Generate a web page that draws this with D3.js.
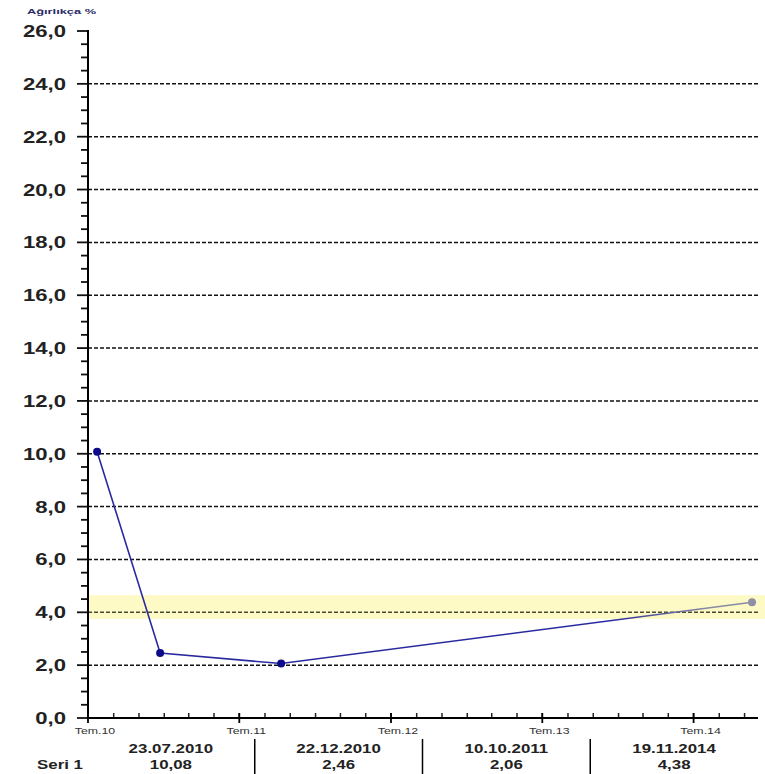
<!DOCTYPE html>
<html><head><meta charset="utf-8">
<script src="https://cdn.jsdelivr.net/npm/d3@7"></script>
<style>body{margin:0;background:#fff}svg{display:block}text{font-family:"Liberation Sans",Arial,sans-serif}</style>
</head><body>
<svg id="c" width="765" height="774"></svg>
<script>
const title = "Ağırlıkça %";
const seriesName = "Seri 1";
const dates = ["2010-07-23", "2010-12-22", "2011-10-10", "2014-11-19"];
const dateLabels = ["23.07.2010", "22.12.2010", "10.10.2011", "19.11.2014"];
const values = [10.08, 2.46, 2.06, 4.38];
const valueLabels = ["10,08", "2,46", "2,06", "4,38"];
const yTicks = [0, 2, 4, 6, 8, 10, 12, 14, 16, 18, 20, 22, 24, 26];
const xTickDates = ["2010-07-01", "2011-07-01", "2012-07-01", "2013-07-01", "2014-07-01"];
const xTickLabels = ["Tem.10", "Tem.11", "Tem.12", "Tem.13", "Tem.14"];
const bandRange = [3.75, 4.65];
const xDomain = ["2010-07-01", "2014-12-01"];

const parse = d3.utcParse("%Y-%m-%d");
const svg = d3.select("#c");
const S = 1.3;
function stretch(sel, f) {
  sel.each(function () {
    const w = this.getComputedTextLength();
    d3.select(this).attr("textLength", w * (f || S)).attr("lengthAdjust", "spacingAndGlyphs");
  });
}

const x = d3.scaleUtc().domain(xDomain.map(parse)).range([88, 757]);
const y = d3.scaleLinear().domain([0, 26]).range([718, 31]);
const x0 = 88, x1 = 758;

// band
svg.append("rect").attr("x", x0).attr("width", 765 - x0)
  .attr("y", y(bandRange[1])).attr("height", y(bandRange[0]) - y(bandRange[1]))
  .attr("fill", "#fdfac6");

// gridlines
svg.append("g").selectAll("line").data(yTicks.filter(v => v > 0 && v < 26)).join("line")
  .attr("x1", x0).attr("x2", x1).attr("y1", d => y(d)).attr("y2", d => y(d))
  .attr("stroke", d => d === 4 ? "#4a4a30" : "#111").attr("stroke-width", 1.5)
  .attr("stroke-dasharray", "4,2");

// y axis
const yMinor = d3.range(0, 26.01, 0.5);
svg.append("g").selectAll("line").data(yMinor).join("line")
  .attr("x1", d => d % 2 === 0 ? 77 : 81).attr("x2", x0)
  .attr("y1", d => y(d)).attr("y2", d => y(d))
  .attr("stroke", "#111").attr("stroke-width", 1.8);
svg.append("line").attr("x1", x0).attr("x2", x0).attr("y1", y(26) - 1).attr("y2", y(0) + 1)
  .attr("stroke", "#000").attr("stroke-width", 2);
const yl = svg.append("g").selectAll("text").data(yTicks).join("text")
  .attr("x", 66).attr("y", d => y(d) + 6).attr("text-anchor", "end")
  .attr("font-size", 17).attr("font-weight", "bold").attr("fill", "#222")
  .text(d => d3.format(".1f")(d).replace(".", ","));
stretch(yl);

// x axis
const xMinor = d3.utcMonth.every(2).range(parse("2010-07-01"), parse("2014-12-01"));
svg.append("g").selectAll("line").data(xMinor).join("line")
  .attr("x1", d => x(d)).attr("x2", d => x(d)).attr("y1", 713).attr("y2", 718)
  .attr("stroke", "#222").attr("stroke-width", 1.5);
svg.append("g").selectAll("line").data(xTickDates.map(parse)).join("line")
  .attr("x1", d => x(d)).attr("x2", d => x(d)).attr("y1", 713).attr("y2", 723)
  .attr("stroke", "#000").attr("stroke-width", 1.8);
svg.append("line").attr("x1", x0 - 1).attr("x2", x1).attr("y1", y(0)).attr("y2", y(0))
  .attr("stroke", "#000").attr("stroke-width", 2);
const xl = svg.append("g").selectAll("text").data(xTickDates).join("text")
  .attr("x", (d) => x(parse(d)) + 7).attr("y", 734).attr("text-anchor", "middle")
  .attr("font-size", 9.5).attr("fill", "#333")
  .text((d, i) => xTickLabels[i]);
stretch(xl);

// line
const pts = dates.map((d, i) => [x(parse(d)), y(values[i])]);
const grad = svg.append("defs").append("linearGradient").attr("id", "lg")
  .attr("gradientUnits", "userSpaceOnUse").attr("x1", 610).attr("x2", 710).attr("y1", 0).attr("y2", 0);
grad.append("stop").attr("offset", 0).attr("stop-color", "#2a2aa0");
grad.append("stop").attr("offset", 1).attr("stop-color", "#8a8aa4");
svg.append("path").attr("d", d3.line()(pts)).attr("fill", "none")
  .attr("stroke", "url(#lg)").attr("stroke-width", 1.6);
svg.append("g").selectAll("circle").data(pts).join("circle")
  .attr("cx", d => d[0]).attr("cy", d => d[1]).attr("r", 4)
  .attr("fill", (d, i) => i === pts.length - 1 ? "#8e8ea6" : "#0a0a8a");

// title
const t = svg.append("text").attr("x", 27).attr("y", 14).attr("font-size", 8)
  .attr("font-weight", "bold").attr("fill", "#2a2a66").text(title);
stretch(t, 1.6);

// table
const colW = (x1 - 87) / dates.length;
svg.append("g").selectAll("line").data(d3.range(1, dates.length)).join("line")
  .attr("x1", i => 87 + i * colW).attr("x2", i => 87 + i * colW)
  .attr("y1", 739).attr("y2", 774).attr("stroke", "#000").attr("stroke-width", 1.5);
const dl = svg.append("g").selectAll("text").data(dateLabels).join("text")
  .attr("x", (d, i) => 87 + (i + 0.5) * colW).attr("y", 753).attr("text-anchor", "middle")
  .attr("font-size", 13.5).attr("font-weight", "bold").attr("fill", "#222").text(d => d);
stretch(dl, 1.25);
const vl = svg.append("g").selectAll("text").data(valueLabels).join("text")
  .attr("x", (d, i) => 87 + (i + 0.5) * colW).attr("y", 769).attr("text-anchor", "middle")
  .attr("font-size", 13.5).attr("font-weight", "bold").attr("fill", "#222").text(d => d);
stretch(vl, 1.25);
const sl = svg.append("text").attr("x", 37).attr("y", 769).attr("font-size", 13.5)
  .attr("font-weight", "bold").attr("fill", "#222").text(seriesName);
stretch(sl, 1.25);
</script>
</body></html>
